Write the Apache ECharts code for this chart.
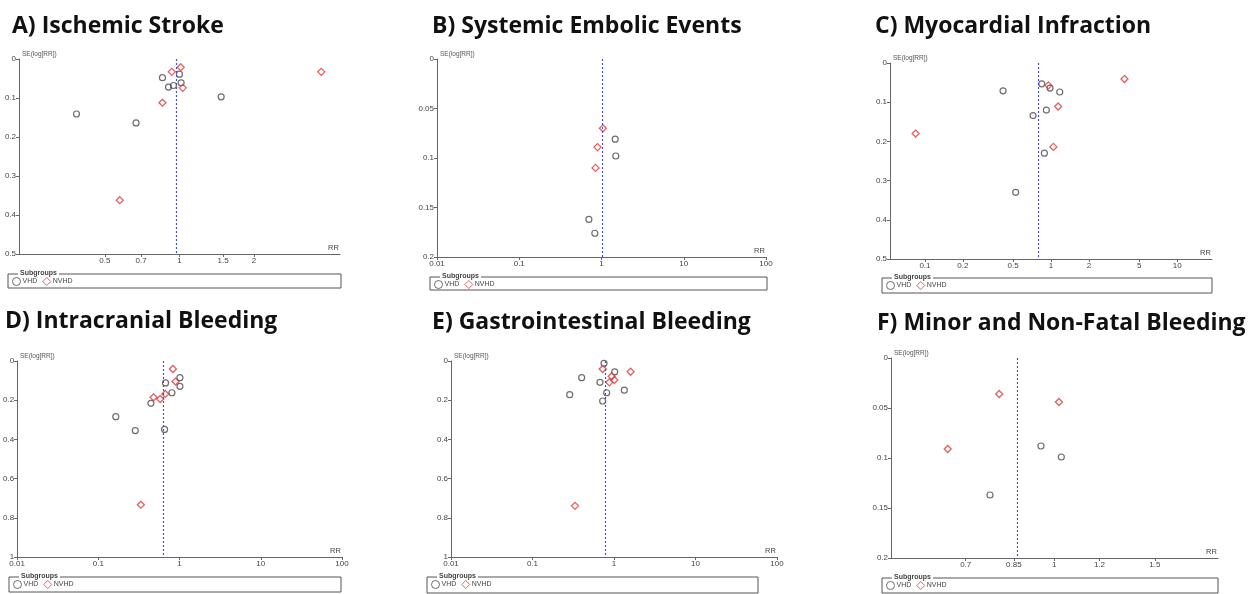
<!DOCTYPE html>
<html>
<head>
<meta charset="utf-8">
<script src="https://cdn.jsdelivr.net/npm/echarts@6.0.0/dist/echarts.min.js"></script>
<style>
  html, body { margin: 0; padding: 0; background: #fff; }
  #chart { width: 1258px; height: 594px; }
</style>
</head>
<body>
<div id="chart"></div>
<script>
// [RR, SE(log RR)]
const strokeVhd = [[0.854, 0.048], [1.0, 0.039], [1.016, 0.061], [0.903, 0.072], [0.946, 0.068], [1.474, 0.097], [0.384, 0.141], [0.668, 0.164]];
const strokeNvhd = [[0.931, 0.033], [1.012, 0.021], [1.031, 0.074], [0.854, 0.112], [3.74, 0.033], [0.574, 0.362]];
const strokePooled = 0.966;

const embolicVhd = [[1.466, 0.081], [1.493, 0.098], [0.702, 0.162], [0.830, 0.176]];
const embolicNvhd = [[1.038, 0.070], [0.894, 0.089], [0.846, 0.110]];
const embolicPooled = 1.01;

const miVhd = [[0.416, 0.071], [0.843, 0.053], [0.982, 0.064], [1.172, 0.074], [0.918, 0.120], [0.720, 0.134], [0.885, 0.230], [0.524, 0.330]];
const miNvhd = [[0.952, 0.057], [1.137, 0.111], [3.82, 0.041], [0.0843, 0.180], [1.043, 0.214]];
const miPooled = 0.798;

const icbVhd = [[0.672, 0.112], [1.01, 0.085], [1.01, 0.129], [0.805, 0.162], [0.444, 0.216], [0.164, 0.284], [0.285, 0.355], [0.654, 0.349]];
const icbNvhd = [[0.828, 0.041], [0.893, 0.105], [0.667, 0.168], [0.479, 0.185], [0.578, 0.194], [0.334, 0.733]];
const icbPooled = 0.63;

const giVhd = [[0.754, 0.012], [1.02, 0.055], [0.401, 0.085], [0.673, 0.109], [1.338, 0.149], [0.813, 0.162], [0.726, 0.204], [0.286, 0.172]];
const giNvhd = [[0.726, 0.041], [1.60, 0.055], [0.937, 0.078], [1.01, 0.097], [0.875, 0.109], [0.332, 0.739]];
const giPooled = 0.782;

const minorVhd = [[0.948, 0.088], [1.029, 0.099], [0.772, 0.137]];
const minorNvhd = [[0.801, 0.036], [1.019, 0.044], [0.651, 0.091]];
const minorPooled = 0.863;

// tick labels
const ticksA = [0.5, 0.7, 1, 1.5, 2];
const ticksDecade = [0.01, 0.1, 1, 10, 100];
const ticksC = [0.1, 0.2, 0.5, 1, 2, 5, 10];
const ticksF = [0.7, 0.85, 1, 1.2, 1.5];

const panels = [
  { title: "A) Ischemic Stroke", tx: 12, ty: 15, grid: { left: 19, top: 59, width: 321, height: 195 },
    xRange: [0.225, 4.45], xTicks: ticksA, yMax: 0.5, yStep: 0.1,
    vhd: strokeVhd, nvhd: strokeNvhd, pooled: strokePooled, box: [8, 274, 333, 14] },
  { title: "B) Systemic Embolic Events", tx: 432, ty: 15, grid: { left: 437, top: 59, width: 329, height: 198 },
    xRange: [0.01, 100], xTicks: ticksDecade, yMax: 0.2, yStep: 0.05,
    vhd: embolicVhd, nvhd: embolicNvhd, pooled: embolicPooled, box: [430, 277, 337, 13] },
  { title: "C) Myocardial Infraction", tx: 875, ty: 15, grid: { left: 890, top: 63, width: 322, height: 196 },
    xRange: [0.0528, 18.9], xTicks: ticksC, yMax: 0.5, yStep: 0.1,
    vhd: miVhd, nvhd: miNvhd, pooled: miPooled, box: [882, 278, 330, 15] },
  { title: "D) Intracranial Bleeding", tx: 5, ty: 310, grid: { left: 17, top: 361, width: 325, height: 196 },
    xRange: [0.01, 100], xTicks: ticksDecade, yMax: 1, yStep: 0.2,
    vhd: icbVhd, nvhd: icbNvhd, pooled: icbPooled, box: [9, 577, 332, 15] },
  { title: "E) Gastrointestinal Bleeding", tx: 432, ty: 311, grid: { left: 451, top: 361, width: 326, height: 196 },
    xRange: [0.01, 100], xTicks: ticksDecade, yMax: 1, yStep: 0.2,
    vhd: giVhd, nvhd: giNvhd, pooled: giPooled, box: [427, 577, 331, 16] },
  { title: "F) Minor and Non-Fatal Bleeding", tx: 877, ty: 312, grid: { left: 891, top: 358, width: 327, height: 200 },
    xRange: [0.518, 1.935], xTicks: ticksF, yMax: 0.2, yStep: 0.05,
    vhd: minorVhd, nvhd: minorNvhd, pooled: minorPooled, box: [882, 578, 336, 15] }
];

const axisColor = "#666";
const labelFont = { fontFamily: "Liberation Sans", fontSize: 8, color: "#444" };
const toLog = (pts) => pts.map(p => [Math.log(p[0]), p[1]]);

const option = {
  animation: false,
  title: [],
  grid: [],
  xAxis: [],
  yAxis: [],
  legend: [],
  series: [],
  graphic: []
};

panels.forEach((p, i) => {
  const g = p.grid;
  option.title.push({
    text: p.title, left: p.tx, top: p.ty, padding: 0,
    textStyle: { fontFamily: "Open Sans", fontWeight: "bold", fontSize: 23, color: "#111" }
  });
  option.grid.push({ left: g.left, top: g.top, width: g.width, height: g.height, containLabel: false });
  const tickVals = p.xTicks.map(t => Math.log(t));
  option.xAxis.push({
    gridIndex: i, type: "value", position: "bottom",
    min: Math.log(p.xRange[0]), max: Math.log(p.xRange[1]),
    axisLine: { onZero: false, lineStyle: { color: axisColor, width: 1 } },
    axisTick: { customValues: tickVals, length: 3, lineStyle: { color: axisColor } },
    axisLabel: {
      customValues: tickVals, margin: 3, ...labelFont,
      showMinLabel: true, showMaxLabel: true, hideOverlap: false,
      formatter: (v) => {
        const t = p.xTicks.find(t => Math.abs(Math.log(t) - v) < 1e-6);
        return t === undefined ? "" : String(t);
      }
    },
    splitLine: { show: false }
  });
  option.yAxis.push({
    gridIndex: i, type: "value", inverse: true, min: 0, max: p.yMax, interval: p.yStep,
    axisLine: { show: true, onZero: false, lineStyle: { color: axisColor, width: 1 } },
    axisTick: { show: true, length: 3, lineStyle: { color: axisColor } },
    axisLabel: { margin: 3, ...labelFont, showMinLabel: true, showMaxLabel: true },
    splitLine: { show: false }
  });
  option.series.push({
    name: "VHD", type: "scatter", xAxisIndex: i, yAxisIndex: i,
    symbol: "circle", symbolSize: 6,
    itemStyle: { color: "rgba(255,255,255,0)", borderColor: "#4a4a4a", borderWidth: 1.2 },
    data: toLog(p.vhd),
    markLine: {
      silent: true, symbol: "none", label: { show: false },
      lineStyle: { color: "#4a4ae0", type: [2, 2], width: 1.2 },
      data: [{ xAxis: Math.log(p.pooled) }]
    },
    z: 3
  });
  option.series.push({
    name: "NVHD", type: "scatter", xAxisIndex: i, yAxisIndex: i,
    symbol: "diamond", symbolSize: 7,
    itemStyle: { color: "rgba(255,255,255,0)", borderColor: "#d93a3a", borderWidth: 1.3 },
    data: toLog(p.nvhd),
    z: 4
  });

  const [bx, by, bw, bh] = p.box;
  option.legend.push({
    data: ["VHD", "NVHD"], left: bx + 4, top: by + 3, padding: 0,
    itemWidth: 8, itemHeight: 8, itemGap: 5, selectedMode: false,
    itemStyle: { borderWidth: 1 },
    textStyle: { fontFamily: "Liberation Sans", fontSize: 7, color: "#444", padding: [0, 0, 0, -3] }
  });
  option.graphic.push(
    { type: "rect", shape: { x: bx, y: by, width: bw, height: bh },
      style: { fill: "none", stroke: "#555", lineWidth: 1 }, z: 1 },
    { type: "text", x: bx + 10, y: by - 4,
      style: { text: "Subgroups", fontFamily: "Liberation Sans", fontSize: 7, fontWeight: "bold",
               fill: "#444", backgroundColor: "#fff", padding: [0, 2] }, z: 2 },
    { type: "text", x: g.left + 3, y: g.top - 8,
      style: { text: "SE(log[RR])", fontFamily: "Liberation Sans", fontSize: 6.5, fill: "#555" } },
    { type: "text", x: g.left + g.width - 12, y: g.top + g.height - 10,
      style: { text: "RR", fontFamily: "Liberation Sans", fontSize: 7.5, fill: "#444" } }
  );
});

const chart = echarts.init(document.getElementById("chart"));
chart.setOption(option);
window.addEventListener("resize", () => chart.resize());
</script>
</body>
</html>
